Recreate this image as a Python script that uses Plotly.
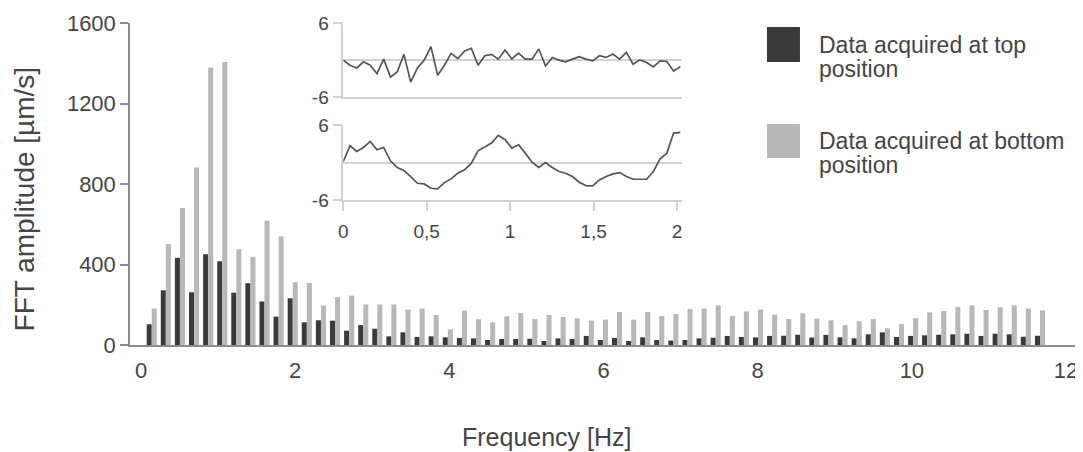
import plotly.graph_objects as go

# ---------------- data ----------------
# frequency bins (Hz) - evenly spaced FFT bins
freq = [round(0.139 + 0.1829 * i, 3) for i in range(64)]

top_amp = [103, 272, 433, 262, 451, 416, 260, 307, 216, 141, 232, 113, 123, 121,
           71, 99, 81, 43, 63, 40, 43, 38, 35, 33, 25, 30, 30, 31, 20, 33, 30,
           45, 25, 35, 20, 38, 25, 22, 25, 33, 36, 45, 40, 38, 45, 46, 51, 37,
           50, 38, 33, 53, 63, 40, 45, 48, 51, 53, 56, 45, 56, 53, 41, 46]

bottom_amp = [181, 502, 681, 882, 1379, 1406, 476, 438, 617, 540, 312, 308, 196, 238,
              245, 201, 201, 201, 176, 181, 149, 78, 171, 128, 113, 143, 159, 129, 149, 139, 133,
              121, 126, 164, 126, 164, 144, 154, 179, 182, 197, 144, 167, 176, 151, 129, 158, 131,
              123, 99, 118, 129, 83, 104, 133, 162, 169, 189, 197, 174, 187, 197, 181, 172]

# inset time series (s)
t_s = [round(0.0404 * i, 4) for i in range(51)]
sig_top = [0, -0.82, -1.26, -0.27, -0.82, -2.19, 0.16, -2.73, -1.91, 0.93, -3.55, -1.26, 0,
           2.19, -2.46, -0.82, 1.09, 0.27, 1.48, 1.91, -0.82, 0.71, 0.93, 0.16, 1.64, 0.2,
           1.15, 0.16, 0.16, 1.8, -0.93, 0.44, 0, -0.27, 0.16, 0.55, 0.16, -0.11, 0.71, 0.44,
           0.98, 0.16, 1.26, -0.66, 0.05, -0.38, -1.09, -0.11, -0.22, -1.75, -1.04]
sig_bottom = [0.16, 2.68, 1.77, 2.41, 3.37, 2.04, 2.41, 0.27, -0.80, -1.29, -2.25, -3.32, -3.43,
              -4.12, -4.23, -3.21, -2.62, -1.71, -1.18, -0.11, 1.87, 2.46, 3.11, 4.34, 3.64, 2.3,
              2.84, 1.50, 0.05, -0.80, 0, -0.80, -1.45, -1.71, -2.25, -3.16, -3.70, -3.75, -2.79,
              -2.25, -1.82, -1.61, -2.25, -2.68, -2.68, -2.68, -1.45, 0.59, 1.50, 4.71, 4.82]

x_ticks = [0, 2, 4, 6, 8, 10, 12]
y_ticks = [0, 400, 800, 1200, 1600]
inset_xticks = [0, 0.5, 1, 1.5, 2]
inset_xlabels = ["0", "0,5", "1", "1,5", "2"]
inset_yticks = [-6, 6]
inset_ylabels = ["-6", "6"]

series_names = ["Data acquired at top position", "Data acquired at bottom position"]
legend_lines = [["Data acquired at top", "position"], ["Data acquired at bottom", "position"]]

# ---------------- style ----------------
DARK = "#3a3a3a"
LIGHT = "#b8b8b8"
TXT = "#454545"
AX = "#8c8c8c"
INSET_AX = "#d2d2d2"
FONT = "Liberation Sans, Arial, Helvetica, sans-serif"

fig = go.Figure()
fig.add_trace(go.Bar(x=freq, y=top_amp, name=series_names[0],
                     marker=dict(color=DARK, line=dict(width=0)), showlegend=False))
fig.add_trace(go.Bar(x=freq, y=bottom_amp, name=series_names[1],
                     marker=dict(color=LIGHT, line=dict(width=0)), showlegend=False))
fig.add_trace(go.Scatter(x=t_s, y=sig_top, xaxis="x2", yaxis="y2", mode="lines",
                         line=dict(color="#555555", width=1.7), showlegend=False))
fig.add_trace(go.Scatter(x=t_s, y=sig_bottom, xaxis="x3", yaxis="y3", mode="lines",
                         line=dict(color="#555555", width=1.7), showlegend=False))

inset_dom = [0.2238, 0.5792]

# page body adds an 8px offset, so the figure is 8px smaller and margins shifted
fig.update_layout(
    width=1075, height=444,
    margin=dict(l=122, r=0, t=15, b=107),
    paper_bgcolor="white", plot_bgcolor="rgba(0,0,0,0)",
    barmode="group", bargap=0.28, bargroupgap=0,
    font=dict(family=FONT, color=TXT),
    xaxis=dict(range=[-0.143, 12.22], tickvals=x_ticks, ticks="", showline=True,
               linecolor=AX, linewidth=1.5, showgrid=False, zeroline=False,
               tickfont=dict(size=22, color=TXT), ticklabelstandoff=5),
    yaxis=dict(range=[0, 1600], tickvals=y_ticks, ticks="outside", ticklen=8,
               tickcolor=AX, tickwidth=1.5, showline=True, linecolor=AX, linewidth=1.5,
               showgrid=False, zeroline=False, tickfont=dict(size=22, color=TXT)),
    xaxis2=dict(domain=inset_dom, anchor="y2", range=[0, 2.03], showline=True,
                linecolor=INSET_AX, linewidth=1.5, showticklabels=False, ticks="",
                showgrid=False, zeroline=False),
    yaxis2=dict(domain=[0.7692, 1.0], anchor="x2", range=[-6, 6], tickvals=inset_yticks,
                ticktext=inset_ylabels, ticks="outside", ticklen=9, tickcolor=INSET_AX,
                tickwidth=1.5, showline=True, linecolor=INSET_AX, linewidth=1.5,
                zeroline=True, zerolinecolor=INSET_AX, zerolinewidth=2, showgrid=False,
                tickfont=dict(size=19, color=TXT)),
    xaxis3=dict(domain=inset_dom, anchor="y3", range=[0, 2.03], tickvals=inset_xticks,
                ticktext=inset_xlabels, ticks="outside", ticklen=9, tickcolor=INSET_AX,
                tickwidth=1.5, showline=True, linecolor=INSET_AX, linewidth=1.5,
                showgrid=False, zeroline=False, tickfont=dict(size=19, color=TXT),
                ticklabelstandoff=4),
    yaxis3=dict(domain=[0.4503, 0.6832], anchor="x3", range=[-6, 6], tickvals=inset_yticks,
                ticktext=inset_ylabels, ticks="outside", ticklen=9, tickcolor=INSET_AX,
                tickwidth=1.5, showline=True, linecolor=INSET_AX, linewidth=1.5,
                zeroline=True, zerolinecolor=INSET_AX, zerolinewidth=2, showgrid=False,
                tickfont=dict(size=19, color=TXT)),
)

# axis titles
fig.add_annotation(text="FFT amplitude [µm/s]", xref="paper", yref="paper",
                   x=-0.1102, y=0.455, textangle=-90, showarrow=False,
                   xanchor="center", yanchor="middle", font=dict(size=28, color=TXT))
fig.add_annotation(text="Frequency [Hz]", xref="paper", yref="paper",
                   x=0.4376, y=-0.2857, showarrow=False,
                   xanchor="center", yanchor="middle", font=dict(size=25, color=TXT))

# custom legend
leg_colors = [DARK, LIGHT]
sq_y = [(0.9876, 0.8789), (0.6863, 0.5807)]
line_y = [(45, 69), (141, 165)]
for c, (y0, y1), lines, ly in zip(leg_colors, sq_y, legend_lines, line_y):
    fig.add_shape(type="rect", xref="paper", yref="paper", x0=0.6684, x1=0.7030,
                  y0=y1, y1=y0, fillcolor=c, line=dict(width=0))
    for txt, py in zip(lines, ly):
        fig.add_annotation(text=txt, xref="paper", yref="paper",
                           x=0.7209, y=(345 - py) / 322, showarrow=False,
                           xanchor="left", yanchor="middle", align="left",
                           font=dict(size=23, color=TXT))

fig.write_html("out.html")
